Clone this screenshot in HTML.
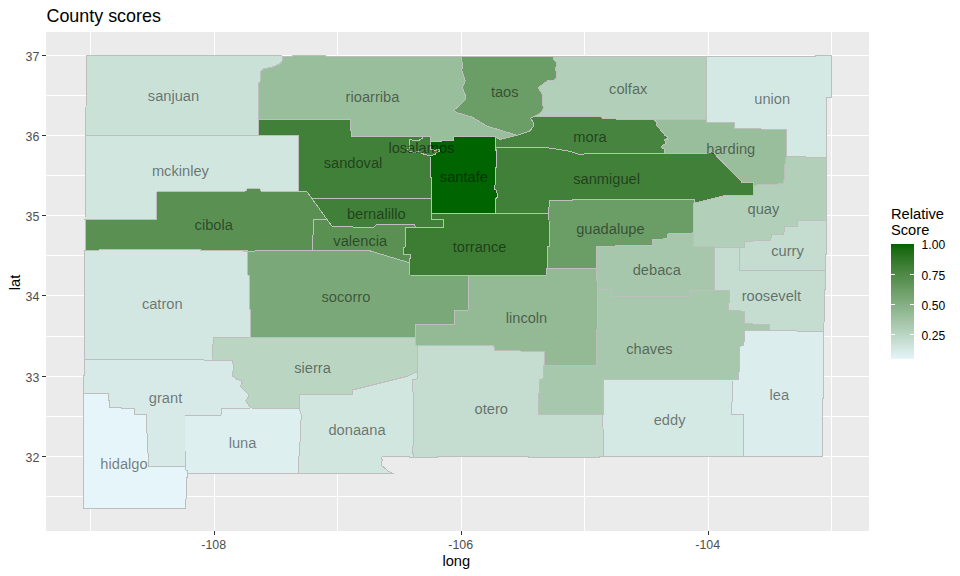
<!DOCTYPE html>
<html lang="en"><head><meta charset="utf-8"><title>County scores</title>
<style>html,body{margin:0;padding:0;background:#fff}svg{display:block}text{font-family:"Liberation Sans",Arial,Helvetica,sans-serif}</style></head>
<body>
<svg width="960" height="576" viewBox="0 0 960 576">
<rect x="0" y="0" width="960" height="576" fill="#ffffff"/>
<rect x="46" y="32" width="823" height="499" fill="#EBEBEB"/>
<g shape-rendering="crispEdges"><line x1="90.5" y1="32" x2="90.5" y2="531" stroke="#fff" stroke-width="1"/><line x1="337.5" y1="32" x2="337.5" y2="531" stroke="#fff" stroke-width="1"/><line x1="584.5" y1="32" x2="584.5" y2="531" stroke="#fff" stroke-width="1"/><line x1="831.5" y1="32" x2="831.5" y2="531" stroke="#fff" stroke-width="1"/><line x1="46" y1="95.5" x2="869" y2="95.5" stroke="#fff" stroke-width="1"/><line x1="46" y1="175.5" x2="869" y2="175.5" stroke="#fff" stroke-width="1"/><line x1="46" y1="255.5" x2="869" y2="255.5" stroke="#fff" stroke-width="1"/><line x1="46" y1="336.5" x2="869" y2="336.5" stroke="#fff" stroke-width="1"/><line x1="46" y1="416.5" x2="869" y2="416.5" stroke="#fff" stroke-width="1"/><line x1="46" y1="496.5" x2="869" y2="496.5" stroke="#fff" stroke-width="1"/><line x1="214.5" y1="32" x2="214.5" y2="531" stroke="#fff" stroke-width="1"/><line x1="461.5" y1="32" x2="461.5" y2="531" stroke="#fff" stroke-width="1"/><line x1="708.5" y1="32" x2="708.5" y2="531" stroke="#fff" stroke-width="1"/><line x1="46" y1="55.5" x2="869" y2="55.5" stroke="#fff" stroke-width="1"/><line x1="46" y1="135.5" x2="869" y2="135.5" stroke="#fff" stroke-width="1"/><line x1="46" y1="215.5" x2="869" y2="215.5" stroke="#fff" stroke-width="1"/><line x1="46" y1="295.5" x2="869" y2="295.5" stroke="#fff" stroke-width="1"/><line x1="46" y1="376.5" x2="869" y2="376.5" stroke="#fff" stroke-width="1"/><line x1="46" y1="456.5" x2="869" y2="456.5" stroke="#fff" stroke-width="1"/></g>
<g stroke="#BEBEBE" stroke-width="1" stroke-linejoin="round" shape-rendering="crispEdges">
<polygon fill="#418038" points="311.9,198.4 431.5,198.4 431.5,219.5 443.25,219.5 443.25,227.5 415.6,227.2 414.4,224.4 376.25,224.4 373.75,227.5 352.5,227 332,226.25 327,219.5"/>
<polygon fill="#D2E7E2" points="85,250 98.75,250 99.5,249.25 200,249.5 200.5,250.25 233.75,250.5 247.5,251.25 248,275 249.5,275.5 249.5,308.75 250.5,310 250.5,337 213.75,337.5 212.5,348.75 212,360 204.5,360.75 203.75,360 84.5,359.5"/>
<polygon fill="#A8C8AD" points="597.5,289.5 611.25,289.5 611.75,296.25 690,296.25 690.5,290 714.5,290 729.5,290 728.75,310 744.5,311.25 745,323.75 769.5,324.5 769.5,330.75 745,330.75 743.75,345 740,346.25 738.75,379 731.25,379.5 603.75,379.5 603.25,414.5 538.25,414.5 539.5,379.5 543,378.75 543.75,365 544.5,365 596.25,365 597.5,305"/>
<polygon fill="#5A9153" points="156.75,192 201.25,191.5 246.25,191 247,188.75 260,188.75 260.5,191 278.75,191.5 298.75,191.25 307,192 311.9,198.4 327,219.5 313.25,219.5 313.25,234.75 312.5,235.5 312.5,250.25 255.5,250.25 255,251.25 233.75,250.5 200.5,250.25 200,249.5 99.5,249.25 98.75,250 85,250 85,220 156.75,219.5"/>
<polygon fill="#B2D0B9" points="553.6,56.5 706.4,56.5 706.4,119.7 654.2,119.7 622.5,119.5 602,118 601.25,116.25 534.8,116.1 539.5,114.1 543.1,109.4 542.7,95.3 538.4,87.5 548.1,80.5 553.6,80.5 556.4,78.1 557,71.9 555.2,69.5 557,63.3 553.9,59.7 553.6,56.5"/>
<polygon fill="#C4DDD0" points="826.25,220.5 826.25,254.4 825.6,254.4 825.6,270.5 739.5,270.5 740,247.5 744.5,247.5 745,241.25 770.75,240.5 771.25,235 783.75,234.5 784.5,227 797.5,226.25 797.5,220.5"/>
<polygon fill="#A6C7AB" points="597,246.25 652.5,245.5 653,239.5 667.5,238.75 668,233.75 693,233.75 693.75,246.25 714.5,247 714.5,290 690.5,290 690,296.25 611.75,296.25 611.25,289.5 597.5,289.5 596.25,268"/>
<polygon fill="#D0E6DF" points="299.5,395 352.5,394.5 352.5,390 407.5,376.25 416.25,372 417.5,372 417.5,378.75 412.5,379.5 412.5,391.25 413.75,392.5 413.3,445 412.3,450 412.3,453 413.3,454 413.3,457.5 409.2,457.5 409.2,456.5 382.1,456.5 381.25,457.9 382.3,460 381.25,462.9 381.5,465.4 385,468.3 388.75,471.5 393.3,473.5 298.25,473.5 298.75,460 300,442.5 301.25,415 299.5,408.75"/>
<polygon fill="#D5E9E4" points="603.75,379.5 731.25,379.5 732,380 732.5,401.25 731.25,402.5 731.25,414.25 743.25,414.5 743.25,456.5 603.5,456.5 603.25,435 602.5,415 603.25,414.5"/>
<polygon fill="#D7EAE7" points="84.5,359.5 203.75,360 204.5,360.75 212,360 232.8,360.75 233.3,367.5 232.5,376.1 237.5,379.7 241.4,380.8 242.2,383.1 240.3,386.25 248.4,394.4 248.4,397.2 245.6,400.6 250.8,408 221.75,408.75 221.75,415 185,415.75 185,450 185.3,466.5 148.75,466.5 148,452.5 147,432.5 146.7,414.3 134.7,414.3 134.7,408.4 121.8,408.4 121.8,407.5 109.4,407.5 109.4,400.5 108.6,400.5 108.6,393.3 83.6,393.3 83.6,375.6 84.3,375.6"/>
<polygon fill="#6B9D66" points="549.25,200.75 572,200.5 572.5,199.5 694.5,199.5 695,203 693.25,203.5 693,233.75 668,233.75 667.5,238.75 653,239.5 652.5,245.5 597,246.25 596.25,268 547,268 547,247 550,246.25 548.75,213.25"/>
<polygon fill="#99BE9C" points="654.2,119.7 706.4,119.7 706.4,122.2 734.5,122.4 734.5,128.25 761.25,129 787,130 786.25,156.25 785,163.75 783.75,183.75 753.5,185.2 753.5,182.5 742.2,182.5 714,153.2 711.7,151.8 708.2,153.5 664.2,153.5 664.2,149.2 661.4,147.8 661.9,146.4 663.3,144.5 666.1,143.6 664.7,139.9 668.4,139.4 667,138.5 667.5,136.6 665.1,135.6 663.3,132.8 656,124.9 657.2,122.5"/>
<polygon fill="#E5F5F9" points="83.6,393.3 108.6,393.3 108.6,400.5 109.4,400.5 109.4,407.5 121.8,407.5 121.8,408.4 134.7,408.4 134.7,414.3 146.7,414.3 147,432.5 148,452.5 148.75,466.5 185.3,466.5 185.3,469.7 187.5,470.3 187.5,477.5 186.5,478.1 186.25,495 185.5,508.5 83.6,508.5"/>
<polygon fill="#DBEDEC" points="745,330.75 769.5,330.75 823.75,331.25 823.75,398 822.5,398.75 822.5,456.5 743.25,456.5 743.25,414.5 731.25,414.25 731.25,402.5 732.5,401.25 732,380 731.25,379.5 738.75,379 740,346.25 743.75,345"/>
<polygon fill="#93BA95" points="468.25,275.5 546.25,275 547,268 596.25,268 597.5,289.5 597.5,305 596.25,365 544.5,365 544.5,351.25 494.5,350.75 493.75,345.5 417.5,345.5 415.5,345 415,337 415,325 454.5,324.25 455,310.5 468.25,310"/>
<polygon fill="#418038" points="422,136.3 422,138.8 420,139.4 419.4,140.4 412.2,140.4 411.5,139.4 409.4,139.4 409.4,149.1 407.5,149.6 409.4,151.3 414.4,152.25 418.1,151.6 420.6,151.9 421.9,153.2 423.75,154.1 425.6,154.4 427.5,155.4 430,156 431.9,155.4 433.75,154.75 435.6,154.4 435.9,153.2 437.5,152.25 439.7,151.3 439.7,149.75 437.5,149.75 435,150.4 432.5,149.6 430.3,149.1 430.3,141 430.6,136.3"/>
<polygon fill="#DDEFEF" points="185,415.75 221.75,415 221.75,408.75 250.8,408 299.5,408.75 301.25,415 300,442.5 298.75,460 298.25,473.5 187.5,473.5 187.5,470.3 185.3,469.7 185.3,466.5 185,450"/>
<polygon fill="#D0E6DF" points="85.75,135 298.75,135 298.75,191.25 278.75,191.5 260.5,191 260,188.75 247,188.75 246.25,191 201.25,191.5 156.75,192 156.75,219.5 85,220"/>
<polygon fill="#47843F" points="534.8,116.1 601.25,116.25 602,118 622.5,119.5 654.2,119.7 657.2,122.5 656,124.9 663.3,132.8 665.1,135.6 667.5,136.6 667,138.5 668.4,139.4 664.7,139.9 666.1,143.6 663.3,144.5 661.9,146.4 661.4,147.8 664.2,149.2 664.2,153.5 583.75,154 581.25,155 570,151.25 544.8,147.3 495.6,147.2 495.6,136.7 499.5,139.6 517,135.2 529.4,131.25 533.75,126.1 533.75,122.7 530.2,118.3"/>
<polygon fill="#C4DDD0" points="417.5,345.5 493.75,345.5 494.5,350.75 544.5,351.25 544.5,365 543.75,365 543,378.75 539.5,379.5 538.25,414.5 603.25,414.5 602.5,415 603.25,435 603.5,456.5 599,456.5 599,457.5 528.5,457.5 528.5,456.5 437.1,456.5 437.1,457.5 413.3,457.5 413.3,454 412.3,453 412.3,450 413.3,445 413.75,392.5 412.5,391.25 412.5,379.5 417.5,378.75 417.5,372"/>
<polygon fill="#B2D0B9" points="753.5,185.2 783.75,183.75 785,163.75 786.25,156.25 806.25,157 826.5,157 826.25,220.5 797.5,220.5 797.5,226.25 784.5,227 783.75,234.5 771.25,235 770.75,240.5 745,241.25 744.5,247.5 727.5,247.5 714.5,247 693.75,246.25 693.25,203.5 695,203 725,195.5 753.5,195.5"/>
<polygon fill="#99BE9C" points="282,56.5 292.5,56.5 292.5,55.5 326,55.5 326,56.5 461.4,56.5 462.5,65.6 461.9,70.3 465.3,80.5 462.5,87.5 465.3,95.3 465,100 460.6,104.7 453.6,110.2 456.7,112.5 472.3,117.2 486.4,125.8 501.25,130.5 517,135.2 499.5,139.6 495.6,136.7 453.75,136.3 453.4,140.4 441.9,140.4 441.5,141.3 430.6,141 430.6,136.3 422,136.3 351.25,136.3 350.5,119.5 258.5,119.5 258.5,82.5 260,82 260.5,71.75 263.75,68.75 272.5,67 280,63.75 282,61.25"/>
<polygon fill="#C4DDD0" points="714.5,247 727.5,247.5 740,247.5 739.5,270.5 825.6,270.5 825,290 823.75,331.25 769.5,330.75 769.5,324.5 745,323.75 744.5,311.25 728.75,310 729.5,290 714.5,290"/>
<polygon fill="#418038" points="258.5,119.5 350.5,119.5 351.25,136.3 422,136.3 422,138.8 420,139.4 419.4,140.4 412.2,140.4 411.5,139.4 409.4,139.4 409.4,149.1 407.5,149.6 409.4,151.3 414.4,152.25 418.1,151.6 420.6,151.9 421.9,153.2 423.75,154.1 425.6,154.4 427.5,155.4 430,156 430.5,177.5 431.7,177.5 431.5,198.4 311.9,198.4 307,192 298.75,191.25 298.75,135 258.5,135"/>
<polygon fill="#CAE1D8" points="86.5,55.5 282,55.5 282,61.25 280,63.75 272.5,67 263.75,68.75 260.5,71.75 260,82 258.5,82.5 258.5,119.5 258.5,135 85.75,135"/>
<polygon fill="#418038" points="495.6,147.2 544.8,147.3 570,151.25 581.25,155 583.75,154 664.2,153.5 708.2,153.5 711.7,151.8 714,153.2 742.2,182.5 753.5,182.5 753.5,195.5 725,195.5 695,203 694.5,199.5 572.5,199.5 572,200.5 549.25,200.75 548.75,213.25 495.6,213 495.9,198.4 497.2,197.2 496.9,190.6 494.4,189.4 494.4,185.5 495.4,184.7 495.4,168 496.4,167.5 496.4,150.8"/>
<polygon fill="#006400" points="430.3,141 441.5,141.3 441.9,140.4 453.4,140.4 453.75,136.3 495.6,136.7 495.6,150.3 496.4,150.8 496.4,167.5 495.4,168 495.4,184.7 494.4,185.5 494.4,189.4 496.9,190.6 497.2,197.2 495.9,198.4 495.6,213 431.5,213.3 431.7,177.5 430.5,177.5 430,156 431.9,155.4 433.75,154.75 435.6,154.4 435.9,153.2 437.5,152.25 439.7,151.3 439.7,149.75 437.5,149.75 435,150.4 432.5,149.6 430.3,149.1 430.3,141"/>
<polygon fill="#BAD6C3" points="213.75,337.5 250.5,337 415,337 415.5,345 417.5,345.5 417.5,372 416.25,372 407.5,376.25 352.5,390 352.5,394.5 299.5,395 299.5,408.75 250.8,408 245.6,400.6 248.4,397.2 248.4,394.4 240.3,386.25 242.2,383.1 241.4,380.8 237.5,379.7 232.5,376.1 233.3,367.5 232.8,360.75 212,360 212.5,348.75"/>
<polygon fill="#7BA878" points="247.5,251.25 255,251.25 255.5,250.25 312.5,250.25 368.75,250.5 408.75,262.5 409.4,262.5 409.4,275 468.25,275.5 468.25,310 455,310.5 454.5,324.25 415,325 415,337 250.5,337 250.5,310 249.5,308.75 249.5,275.5 248,275"/>
<polygon fill="#6B9D66" points="461.4,56.5 462.5,65.6 461.9,70.3 465.3,80.5 462.5,87.5 465.3,95.3 465,100 460.6,104.7 453.6,110.2 456.7,112.5 472.3,117.2 486.4,125.8 501.25,130.5 517,135.2 529.4,131.25 533.75,126.1 533.75,122.7 530.2,118.3 534.8,116.1 539.5,114.1 543.1,109.4 542.7,95.3 538.4,87.5 548.1,80.5 553.6,80.5 556.4,78.1 557,71.9 555.2,69.5 557,63.3 553.9,59.7 553.6,56.5"/>
<polygon fill="#3C7D33" points="405.6,227.5 415.6,227.2 443.25,227.5 443.25,219.5 431.5,219.5 431.5,213.3 495.6,213 548.75,213.25 550,246.25 547,247 547,268 546.25,275 468.25,275.5 409.4,275 409.4,262.5 409.4,258.1 410.6,258.1 410.6,254.4 403.1,254.4 403.1,248.1 405.6,246.9"/>
<polygon fill="#D5E9E4" points="706.4,56.5 815.8,56.5 815.8,55.5 831.5,55.5 831.5,97.5 826.5,97.5 826.5,157 806.25,157 786.25,156.25 787,130 761.25,129 734.5,128.25 734.5,122.4 706.4,122.2"/>
<polygon fill="#5A9153" points="312.5,235.5 313.25,234.75 313.25,219.5 327,219.5 332,226.25 352.5,227 373.75,227.5 376.25,224.4 414.4,224.4 415.6,227.2 405.6,227.5 405.6,246.9 403.1,248.1 403.1,254.4 410.6,254.4 410.6,258.1 409.4,258.1 409.4,262.5 408.75,262.5 368.75,250.5 312.5,250.25"/>
</g>
<g font-size="14.67" fill="#000" fill-opacity="0.5" text-anchor="middle">
<text x="376.25" y="218.75">bernalillo</text>
<text x="162.25" y="308.75">catron</text>
<text x="649.4" y="353.75">chaves</text>
<text x="213.75" y="230">cibola</text>
<text x="628.25" y="94">colfax</text>
<text x="787.5" y="255.5">curry</text>
<text x="656.75" y="274.5">debaca</text>
<text x="357" y="435">donaana</text>
<text x="669.6" y="425">eddy</text>
<text x="165.5" y="403">grant</text>
<text x="610.4" y="233.75">guadalupe</text>
<text x="730.75" y="153.75">harding</text>
<text x="124" y="468.75">hidalgo</text>
<text x="779.4" y="400">lea</text>
<text x="526.5" y="322.5">lincoln</text>
<text x="421.4" y="153">losalamos</text>
<text x="242.5" y="448">luna</text>
<text x="180.4" y="176.25">mckinley</text>
<text x="590" y="142">mora</text>
<text x="491.25" y="413.75">otero</text>
<text x="763.4" y="213.75">quay</text>
<text x="372.5" y="102">rioarriba</text>
<text x="771.4" y="300.75">roosevelt</text>
<text x="353" y="167.5">sandoval</text>
<text x="173.5" y="101.25">sanjuan</text>
<text x="606.6" y="184.25">sanmiguel</text>
<text x="463.9" y="181.7">santafe</text>
<text x="312.5" y="372.5">sierra</text>
<text x="345.9" y="302">socorro</text>
<text x="504.75" y="97">taos</text>
<text x="479.6" y="252">torrance</text>
<text x="772.25" y="103.75">union</text>
<text x="360.25" y="245.75">valencia</text>
</g>
<g shape-rendering="crispEdges"><line x1="214.5" y1="531" x2="214.5" y2="535" stroke="#333" stroke-width="1"/><line x1="461.5" y1="531" x2="461.5" y2="535" stroke="#333" stroke-width="1"/><line x1="708.5" y1="531" x2="708.5" y2="535" stroke="#333" stroke-width="1"/><line x1="42" y1="55.5" x2="46" y2="55.5" stroke="#333" stroke-width="1"/><line x1="42" y1="135.5" x2="46" y2="135.5" stroke="#333" stroke-width="1"/><line x1="42" y1="215.5" x2="46" y2="215.5" stroke="#333" stroke-width="1"/><line x1="42" y1="295.5" x2="46" y2="295.5" stroke="#333" stroke-width="1"/><line x1="42" y1="376.5" x2="46" y2="376.5" stroke="#333" stroke-width="1"/><line x1="42" y1="456.5" x2="46" y2="456.5" stroke="#333" stroke-width="1"/></g>
<g font-size="12.4" fill="#4D4D4D">
<text x="213.7" y="548.6" text-anchor="middle">-108</text>
<text x="460.7" y="548.6" text-anchor="middle">-106</text>
<text x="707.7" y="548.6" text-anchor="middle">-104</text>
<text x="39.3" y="60.7" text-anchor="end">37</text>
<text x="39.3" y="140.7" text-anchor="end">36</text>
<text x="39.3" y="220.7" text-anchor="end">35</text>
<text x="39.3" y="300.7" text-anchor="end">34</text>
<text x="39.3" y="381.7" text-anchor="end">33</text>
<text x="39.3" y="461.7" text-anchor="end">32</text>
</g>
<text x="46.5" y="21.8" font-size="17.9" fill="#000">County scores</text>
<text x="456.3" y="565.6" font-size="14.67" fill="#000" text-anchor="middle">long</text>
<text transform="translate(19.5,282.4) rotate(-90)" font-size="14.67" fill="#000" text-anchor="middle">lat</text>
<defs><linearGradient id="lg" x1="0" y1="1" x2="0" y2="0">
<stop offset="0%" stop-color="#E5F5F9"/>
<stop offset="5%" stop-color="#DBEDEC"/>
<stop offset="10%" stop-color="#D0E6DF"/>
<stop offset="15%" stop-color="#C6DED3"/>
<stop offset="20%" stop-color="#BCD7C6"/>
<stop offset="25%" stop-color="#B2D0B9"/>
<stop offset="30%" stop-color="#A8C8AD"/>
<stop offset="35%" stop-color="#9EC1A1"/>
<stop offset="40%" stop-color="#93BA95"/>
<stop offset="45%" stop-color="#89B289"/>
<stop offset="50%" stop-color="#7FAB7D"/>
<stop offset="55%" stop-color="#75A471"/>
<stop offset="60%" stop-color="#6B9D66"/>
<stop offset="65%" stop-color="#61955A"/>
<stop offset="70%" stop-color="#568E4F"/>
<stop offset="75%" stop-color="#4C8743"/>
<stop offset="80%" stop-color="#418038"/>
<stop offset="85%" stop-color="#35792C"/>
<stop offset="90%" stop-color="#287220"/>
<stop offset="95%" stop-color="#196B12"/>
<stop offset="100%" stop-color="#006400"/>
</linearGradient></defs>
<text x="891" y="218.8" font-size="14.67" fill="#000">Relative</text>
<text x="891" y="234.7" font-size="14.67" fill="#000">Score</text>
<rect x="891" y="244" width="23" height="115" fill="url(#lg)" shape-rendering="crispEdges"/>
<line x1="891" y1="274.5" x2="895" y2="274.5" stroke="#fff" stroke-width="1" shape-rendering="crispEdges"/><line x1="910" y1="274.5" x2="914" y2="274.5" stroke="#fff" stroke-width="1" shape-rendering="crispEdges"/>
<line x1="891" y1="304.5" x2="895" y2="304.5" stroke="#fff" stroke-width="1" shape-rendering="crispEdges"/><line x1="910" y1="304.5" x2="914" y2="304.5" stroke="#fff" stroke-width="1" shape-rendering="crispEdges"/>
<line x1="891" y1="334.5" x2="895" y2="334.5" stroke="#fff" stroke-width="1" shape-rendering="crispEdges"/><line x1="910" y1="334.5" x2="914" y2="334.5" stroke="#fff" stroke-width="1" shape-rendering="crispEdges"/>
<g font-size="12.1" fill="#000">
<text x="921.6" y="249.0">1.00</text>
<text x="921.6" y="279.5">0.75</text>
<text x="921.6" y="309.5">0.50</text>
<text x="921.6" y="339.5">0.25</text>
</g>
</svg></body></html>
